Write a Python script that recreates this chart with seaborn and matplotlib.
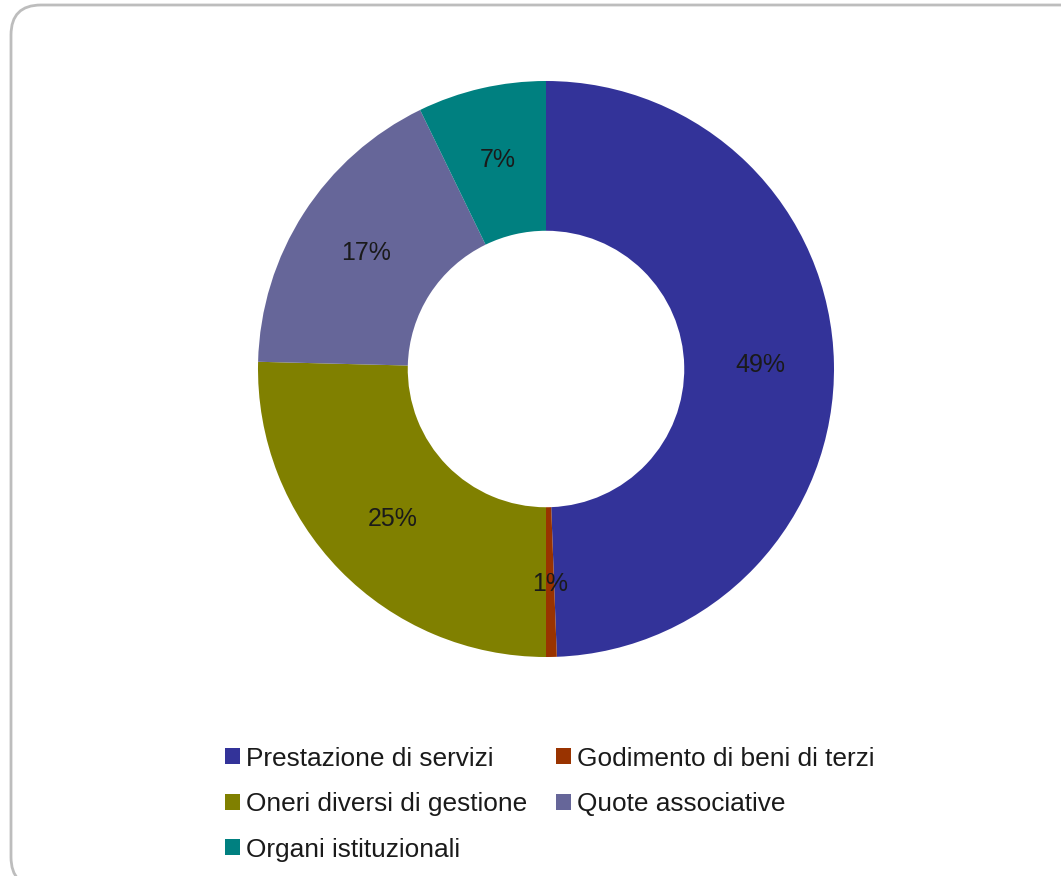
import numpy as np
import pandas as pd

import matplotlib.pyplot as plt
import seaborn as sns
from matplotlib.patches import FancyBboxPatch, Patch
from matplotlib.transforms import IdentityTransform

categories = ['Prestazione di servizi', 'Godimento di beni di terzi',
              'Oneri diversi di gestione', 'Quote associative',
              'Organi istituzionali']
shares = [49.4, 0.6, 25.4, 17.4, 7.2]
colors = ['#333399', '#993300', '#808000', '#666699', '#008080']

sns.set_theme(style='white')
plt.rcParams['font.family'] = ['Liberation Sans', 'DejaVu Sans']

data = pd.DataFrame({'category': categories, 'share': shares})

fig = plt.figure(figsize=(10.61, 8.76), dpi=100)

# rounded grey frame around the chart area (pixel coordinates)
frame = FancyBboxPatch((11, -11), 1100, 882, boxstyle='round,pad=0,rounding_size=30',
                       facecolor='none', edgecolor='#bdbdbd', linewidth=2,
                       transform=IdentityTransform(), zorder=0)
fig.add_artist(frame)

cx, cy, r = 546, 876 - 369, 288
ax = fig.add_axes([(cx - r) / 1061, (cy - r) / 876, 2 * r / 1061, 2 * r / 876])
wedges, texts, autotexts = ax.pie(data['share'], colors=colors, startangle=90,
                                  counterclock=False, autopct='%.0f%%',
                                  pctdistance=0.745,
                                  wedgeprops=dict(width=0.52, linewidth=0),
                                  textprops=dict(fontsize=18, color='#1a1a1a'))
ax.set_xlim(-1, 1)
ax.set_ylim(-1, 1)
ax.axis('off')

# legend filled row by row (matplotlib fills by column)
order = [0, 2, 4, 1, 3]
handles = [Patch(facecolor=colors[i], edgecolor='none') for i in order]
labels = [categories[i] for i in order]
fig.legend(handles, labels, ncol=2, loc='upper left',
           bbox_to_anchor=(201 / 1061, 1 - 723 / 876), frameon=False,
           fontsize=18.9, handlelength=0.57, handleheight=0.57,
           handletextpad=0.23, columnspacing=1.12, labelspacing=0.82,
           labelcolor='#1a1a1a')

fig.savefig('out.png', dpi=100)
